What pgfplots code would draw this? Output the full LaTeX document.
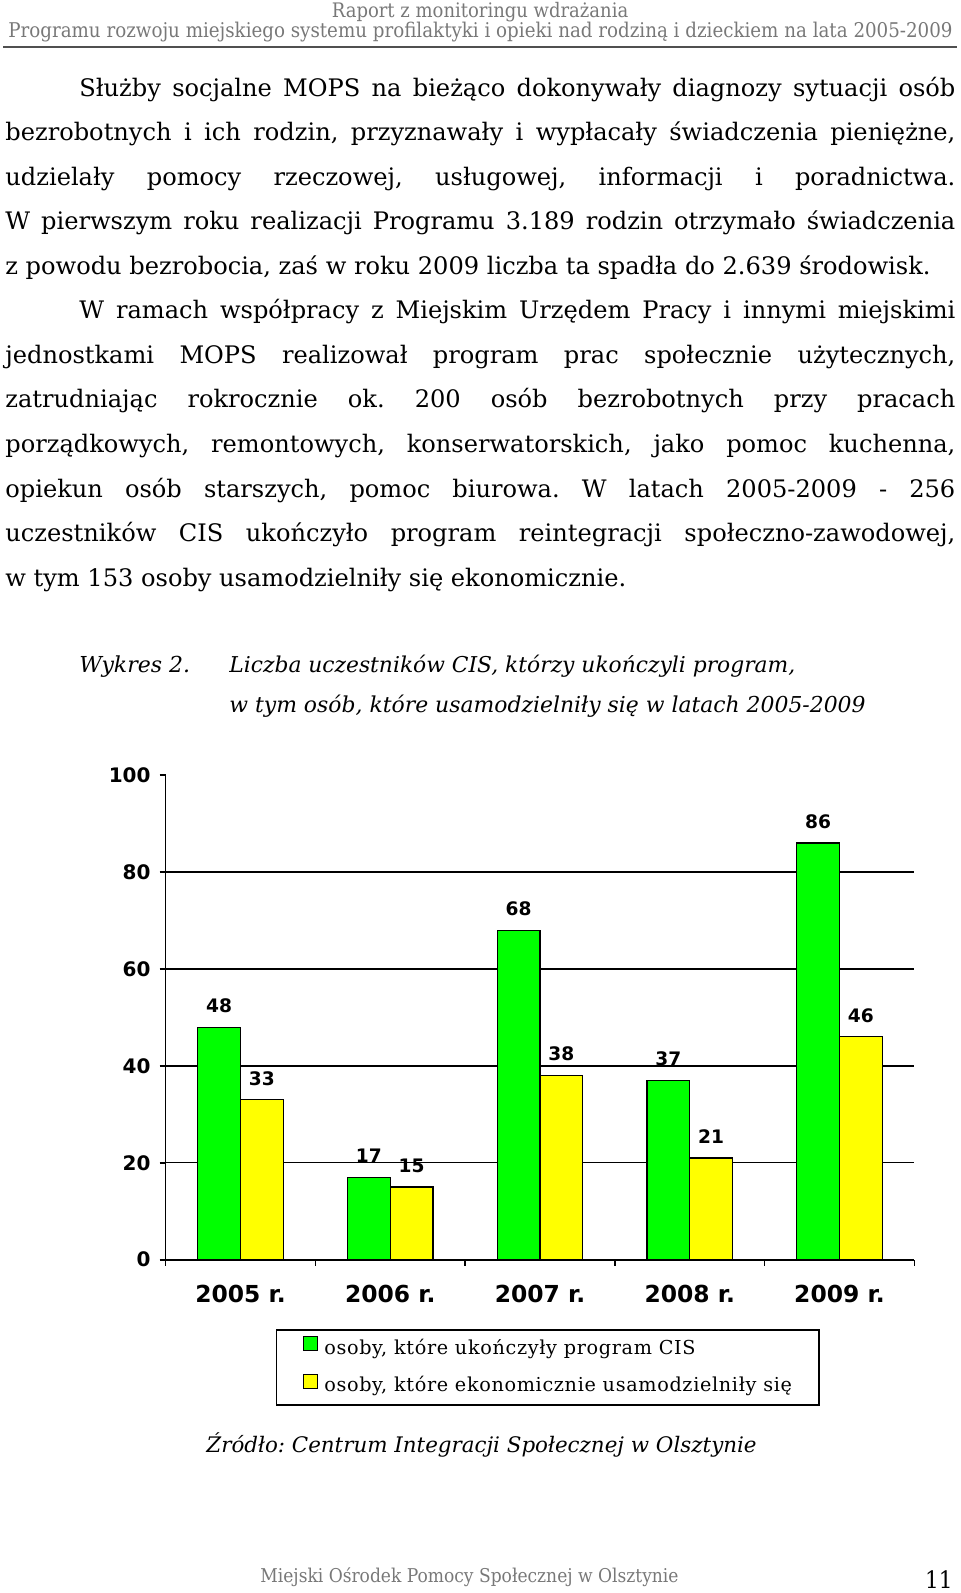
\documentclass[border=0pt]{standalone}
\usepackage{fontspec}
\setmainfont{DejaVu Serif}
\newfontfamily\hdrfont{DejaVu Serif Condensed}
\newfontfamily\chartfont{DejaVu Sans}
\newfontfamily\legfont[LetterSpace=3.5]{DejaVu Serif}
\usepackage{pgfplots}
\pgfplotsset{compat=1.18}
\definecolor{bargreen}{RGB}{0,255,0}
\definecolor{baryellow}{RGB}{255,255,0}
\definecolor{hdrgray}{RGB}{120,120,120}
\definecolor{rulegray}{RGB}{80,80,80}
\frenchspacing
\newcommand\bodyfont{\fontsize{12.05}{13}\selectfont}
\newcommand\fullline[2]{\node[anchor=base west, inner sep=0pt] at (5,#1) {\bodyfont\makebox[475pt][s]{#2}};}
\newcommand\indline[2]{\node[anchor=base west, inner sep=0pt] at (79,#1) {\bodyfont\makebox[438pt][s]{#2}};}
\newcommand\natline[2]{\node[anchor=base west, inner sep=0pt] at (5,#1) {\bodyfont #2};}
\begin{document}
\begin{tikzpicture}
\begin{scope}[x=0.5pt,y=-0.5pt]
\path[use as bounding box] (0,0) rectangle (960,1593);
% header
\node[anchor=base, inner sep=0pt, text=hdrgray] at (480,18) {\hdrfont\fontsize{10}{12}\selectfont Raport z monitoringu wdrażania};
\node[anchor=base west, inner sep=0pt, text=hdrgray] at (8,38) {\resizebox{472pt}{!}{\hdrfont\fontsize{10.5}{12}\selectfont Programu rozwoju miejskiego systemu profilaktyki i opieki nad rodziną i dzieckiem na lata 2005-2009}};
\draw[rulegray, line width=1pt] (3,47) -- (957,47);
% body text
\indline{96.5}{Służby socjalne MOPS na bieżąco dokonywały diagnozy sytuacji osób}
\fullline{141}{bezrobotnych i ich rodzin, przyznawały i wypłacały świadczenia pieniężne,}
\fullline{185.5}{udzielały pomocy rzeczowej, usługowej, informacji i poradnictwa.}
\fullline{230}{W pierwszym roku realizacji Programu 3.189 rodzin otrzymało świadczenia}
\natline{274.5}{z powodu bezrobocia, zaś w roku 2009 liczba ta spadła do 2.639 środowisk.}
\indline{319}{W ramach współpracy z Miejskim Urzędem Pracy i innymi miejskimi}
\fullline{363.5}{jednostkami MOPS realizował program prac społecznie użytecznych,}
\fullline{408}{zatrudniając rokrocznie ok. 200 osób bezrobotnych przy pracach}
\fullline{452.5}{porządkowych, remontowych, konserwatorskich, jako pomoc kuchenna,}
\fullline{497}{opiekun osób starszych, pomoc biurowa. W latach 2005-2009 - 256}
\fullline{541.5}{uczestników CIS ukończyło program reintegracji społeczno-zawodowej,}
\natline{586}{w tym 153 osoby usamodzielniły się ekonomicznie.}
% caption
\node[anchor=base west, inner sep=0pt] at (79,672) {\itshape\fontsize{11}{12}\selectfont Wykres 2.};
\node[anchor=base west, inner sep=0pt] at (229,672) {\itshape\fontsize{10.9}{12}\selectfont Liczba uczestników CIS, którzy ukończyli program,};
\node[anchor=base west, inner sep=0pt] at (229,712) {\itshape\fontsize{10.95}{12}\selectfont w tym osób, które usamodzielniły się w latach 2005-2009};
% legend frame
\draw[black, line width=0.75pt] (276.3,1329.8) rectangle (818.8,1405);
% source
\node[anchor=base west, inner sep=0pt] at (206,1452.5) {\itshape\fontsize{10.7}{12}\selectfont Źródło: Centrum Integracji Społecznej w Olsztynie};
% footer
\node[anchor=base west, inner sep=0pt, text=hdrgray] at (260,1582) {\hdrfont\fontsize{9.5}{11}\selectfont Miejski Ośrodek Pomocy Społecznej w Olsztynie};
\node[anchor=base east, inner sep=0pt] at (953,1588) {\hdrfont\fontsize{12}{13}\selectfont 11};
\end{scope}
\begin{axis}[
  at={(82.8pt,-629.85pt)}, anchor=south west,
  scale only axis, width=374.35pt, height=242.3pt,
  xmin=-0.5, xmax=4.5, ymin=0, ymax=100,
  /pgf/number format/assume math mode=true,
  axis x line*=bottom, axis y line*=left,
  axis line style={line width=0.8pt, -},
  ybar=0pt, bar width=21.35pt,
  xtick={0,1,2,3,4},
  xticklabels={2005 r.,2006 r.,2007 r.,2008 r.,2009 r.},
  minor xtick={-0.5,0.5,1.5,2.5,3.5,4.5},
  major x tick style={draw=none},
  minor x tick style={line width=0.8pt, black},
  ytick={0,20,40,60,80},
  extra y ticks={100},
  extra y tick style={grid=none},
  y tick style={line width=0.8pt, black},
  ymajorgrids,
  grid style={line width=0.7pt, black},
  tick align=outside,
  major tick length=3pt, minor tick length=3pt,
  xticklabel style={font=\chartfont\bfseries\fontsize{11.7}{12}\selectfont, anchor=center, yshift=-14pt},
  yticklabel style={font=\chartfont\bfseries\fontsize{10}{10}\selectfont, xshift=-1pt},
  nodes near coords,
  every node near coord/.append style={font=\chartfont\bfseries\fontsize{9.3}{10}\selectfont, anchor=center, yshift=10.75pt},
  legend style={at={(axis description cs:0.1831,-0.2212)}, anchor=west, draw=none, fill=none, inner sep=0pt,
    font=\legfont\fontsize{9.6}{11}\selectfont, row sep=6.85pt,
    nodes={inner sep=1pt, inner xsep=3pt, text height=7pt, text depth=2pt}},
  legend cell align=left,
  legend image code/.code={\draw[#1, line width=0.5pt] (0pt,-0.95pt) rectangle (7.1pt,6.15pt);},
]
\addplot[fill=bargreen, draw=black, line width=0.6pt] coordinates {(0,48) (1,17) (2,68) (3,37) (4,86)};
\addplot[fill=baryellow, draw=black, line width=0.6pt] coordinates {(0,33) (1,15) (2,38) (3,21) (4,46)};
\legend{{osoby, które ukończyły program CIS}, {osoby, które ekonomicznie usamodzielniły się}}
\end{axis}
\end{tikzpicture}
\end{document}
